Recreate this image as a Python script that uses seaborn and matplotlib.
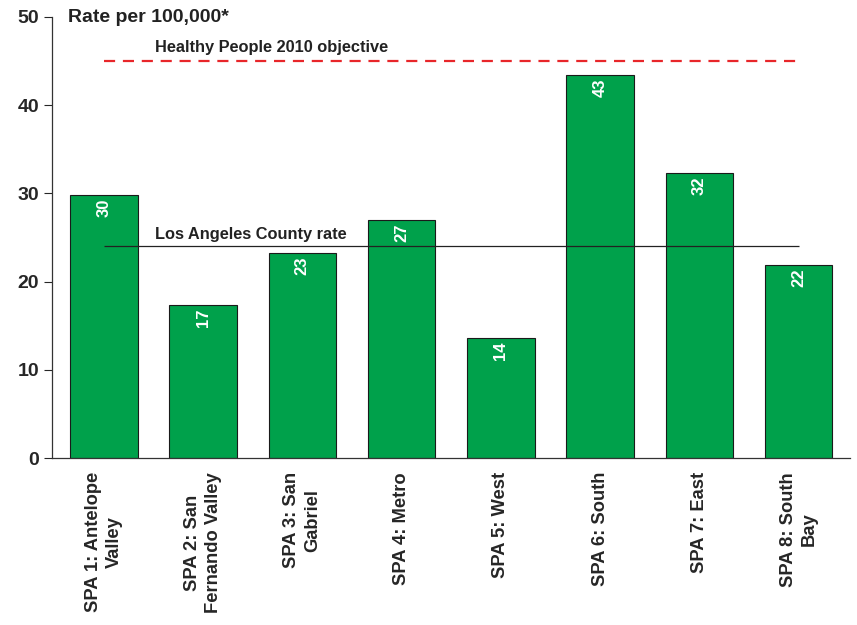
import pandas as pd
import seaborn as sns
import matplotlib.pyplot as plt

# Dữ liệu
regions = ["SPA 1: Antelope\nValley", "SPA 2: San\nFernando Valley", "SPA 3: San\nGabriel",
           "SPA 4: Metro", "SPA 5: West", "SPA 6: South", "SPA 7: East", "SPA 8: South\nBay"]
rates = [29.8, 17.4, 23.2, 27.0, 13.6, 43.4, 32.3, 21.9]
rate_labels = ["30", "17", "23", "27", "14", "43", "32", "22"]
county_rate = 24.0
hp2010_objective = 45.0

df = pd.DataFrame({"region": regions, "rate": rates})

sns.set_style("white")
plt.rcParams['font.family'] = ['Liberation Sans', 'DejaVu Sans']
plt.rcParams['font.weight'] = 'bold'

fig = plt.figure(figsize=(8.57, 6.25), dpi=100)
ax = fig.add_axes([0.061, 0.267, 0.931, 0.706])

sns.barplot(data=df, x="region", y="rate", color="#00A14B", saturation=1,
            width=0.68, edgecolor="#1a1a1a", linewidth=0.8, ax=ax)

# nhãn giá trị trong cột
for i, (v, lab) in enumerate(zip(rates, rate_labels)):
    ax.text(i, v - 0.4, lab, rotation=90, ha="center", va="top",
            color="white", fontsize=12, fontweight="bold")

# đường tham chiếu
ax.hlines(county_rate, 0, len(regions) - 1, color="#222222", linewidth=0.9, zorder=3)
ax.hlines(hp2010_objective, 0, len(regions) - 1, color="#E8262A", linewidth=1.6,
          linestyles=(0, (5, 3.5)), zorder=3)
ax.text(0.52, county_rate + 0.5, "Los Angeles County rate", fontsize=11.8,
        fontweight="bold", color="#222222", va="bottom")
ax.text(0.52, hp2010_objective + 0.7, "Healthy People 2010 objective", fontsize=11.8,
        fontweight="bold", color="#222222", va="bottom")

ax.set_ylim(0, 50)
ax.set_xlim(-0.52, len(regions) - 0.48)
ax.set_yticks(range(0, 51, 10))
ax.tick_params(axis="y", labelsize=14, length=6, direction="out", left=True, width=0.8)
ax.tick_params(axis="x", labelsize=13.2, length=0, pad=10)
plt.setp(ax.get_xticklabels(), rotation=90, ha="center", va="top",
         multialignment="center", fontweight="bold", linespacing=1.3)
plt.setp(ax.get_yticklabels(), fontweight="bold")
ax.set_xlabel("")
ax.set_ylabel("")
sns.despine(ax=ax)
for s in ["left", "bottom"]:
    ax.spines[s].set_color("#333333")
    ax.spines[s].set_linewidth(0.9)

fig.text(0.079, 0.972, "Rate per 100,000*", fontsize=14, fontweight="bold",
         va="center", color="#222222")

plt.savefig("out.png", dpi=100)
